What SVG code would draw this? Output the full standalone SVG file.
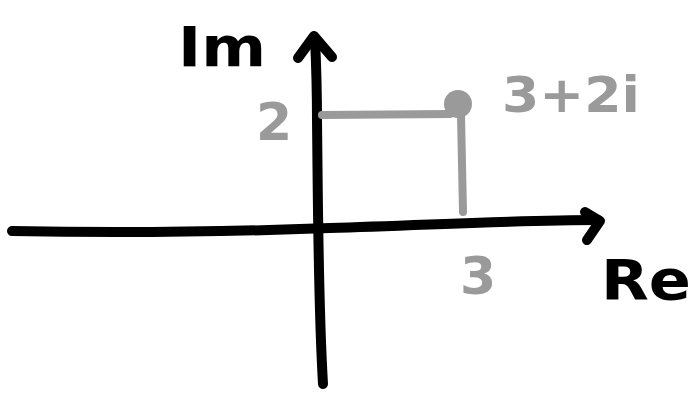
<svg xmlns="http://www.w3.org/2000/svg" width="699" height="400" viewBox="0 0 699 400">
<style>
.ax{fill:none;stroke:#000;stroke-width:10;stroke-linecap:round;stroke-linejoin:round}
.gl{fill:none;stroke:#9a9a9a;stroke-width:8;stroke-linecap:round}
.bt{font-family:"DejaVu Sans",sans-serif;font-weight:bold;fill:#000}
.gt{font-family:"DejaVu Sans",sans-serif;font-weight:bold;fill:#9a9a9a}
</style>
<rect width="699" height="400" fill="#fff"/>
<g id="connectors">
<path class="ax" d="M12,231 C150,234 250,231 330,228 C430,225 520,220 598,220"/>
<path class="ax" d="M585,212 L600,221 L587,240"/>
<path class="ax" d="M323,384 C318,300 318,200 317,120 C317,90 316,60 315,38"/>
<path class="ax" d="M298,58 L314,36 L332,57"/>
<path class="gl" d="M322,115 L450,114"/>
<path class="gl" d="M461,115 L463,212"/>
</g>
<g id="point"><circle cx="458" cy="104" r="14" fill="#9a9a9a"/></g>
<g id="label-im"><text class="bt" x="178" y="66" font-size="56" textLength="88" lengthAdjust="spacingAndGlyphs">Im</text></g>
<g id="label-re"><text class="bt" x="601" y="299" font-size="56" textLength="90" lengthAdjust="spacingAndGlyphs">Re</text></g>
<g id="label-2"><text class="gt" x="256" y="140" font-size="52">2</text></g>
<g id="label-3"><text class="gt" x="460" y="294" font-size="52">3</text></g>
<g id="label-z"><text class="gt" x="502" y="112" font-size="50" textLength="138" lengthAdjust="spacingAndGlyphs">3+2i</text></g>
</svg>
